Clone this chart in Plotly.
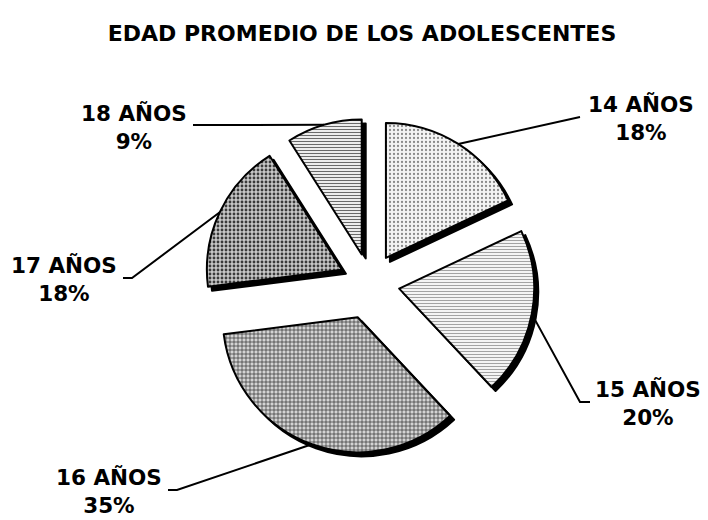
import math
import plotly.graph_objects as go

# ---- data ----
categories = ["14 AÑOS", "15 AÑOS", "16 AÑOS", "17 AÑOS", "18 AÑOS"]
values = [18, 20, 35, 18, 9]
title_text = "EDAD PROMEDIO DE LOS ADOLESCENTES"

# ---- styling / layout ----
OFF = 8                    # page body margin
W, H = 700, 512            # figure size so that page is 708x520
CX, CY = 370, 283          # pie centre, page px
R = 135                    # pie radius, px
pulls = [0.22, 0.22, 0.27, 0.23, 0.22]
shadow_off = 4

patterns = [
    dict(shape=".", fgcolor="#8a8a8a", bgcolor="#f4f4f4", size=4, solidity=0.25),
    dict(shape="-", fgcolor="#9a9a9a", bgcolor="#f4f4f4", size=3, solidity=0.3),
    dict(shape="+", fgcolor="#262626", bgcolor="#d4d4d4", size=4, solidity=0.3),
    dict(shape=".", fgcolor="#3a3a3a", bgcolor="#c8c8c8", size=4, solidity=0.4),
    dict(shape="-", fgcolor="#6a6a6a", bgcolor="#ececec", size=3, solidity=0.35),
]
# label centres and leader-line label ends (page px)
label_centres = [(641, 118), (648, 403), (109, 491), (64, 279), (134, 127)]
leader_ends = [[(580, 117)], [(580, 402), (590, 402)], [(177, 490), (168, 490)],
               [(132, 278), (123, 278)], [(193, 125)]]

FONT = "DejaVu Sans"

maxpull = max(pulls)
half = R * (1 + maxpull)


def px2paper(x, y):
    return (x - OFF) / W, 1 - (y - OFF) / H


def dom(cx, cy):
    x0, y1 = px2paper(cx - half, cy - half)
    x1, y0 = px2paper(cx + half, cy + half)
    return dict(x=[x0, x1], y=[y0, y1])


fig = go.Figure()

# shadow
fig.add_trace(go.Pie(
    labels=categories, values=values, sort=False, direction="clockwise", rotation=0,
    pull=pulls, domain=dom(CX + shadow_off, CY + shadow_off),
    marker=dict(colors=["black"] * len(values), line=dict(color="black", width=2)),
    textinfo="none", hoverinfo="skip", showlegend=False,
))

# main pie
fig.add_trace(go.Pie(
    labels=categories, values=values, sort=False, direction="clockwise", rotation=0,
    pull=pulls, domain=dom(CX, CY),
    marker=dict(colors=[p["bgcolor"] for p in patterns],
                line=dict(color="black", width=2),
                pattern=dict(shape=[p["shape"] for p in patterns],
                             fgcolor=[p["fgcolor"] for p in patterns],
                             bgcolor=[p["bgcolor"] for p in patterns],
                             size=[p["size"] for p in patterns],
                             solidity=[p["solidity"] for p in patterns],
                             fillmode="replace")),
    textinfo="none", showlegend=False,
))

total = sum(values)
cum = 0
shapes = []
annotations = []
for i, (cat, v) in enumerate(zip(categories, values)):
    theta = 2 * math.pi * (cum + v / 2) / total
    cum += v
    a = math.pi / 2 - theta
    k = (1 + pulls[i]) * R
    sx, sy = CX + k * math.cos(a), CY - k * math.sin(a)
    pts = [(sx, sy)] + leader_ends[i]
    path = ""
    for j, (x, y) in enumerate(pts):
        px, py = px2paper(x, y)
        path += ("M" if j == 0 else " L") + f" {px:.5f} {py:.5f}"
    shapes.append(dict(type="path", xref="paper", yref="paper", path=path,
                       line=dict(color="black", width=2)))
    lx, ly = px2paper(*label_centres[i])
    pct = round(100 * v / total)
    annotations.append(dict(
        x=lx, y=ly, xref="paper", yref="paper", showarrow=False,
        text=f"<b>{cat}<br>{pct}%</b>", align="center",
        font=dict(family=FONT, size=21.5, color="black"),
        xanchor="center", yanchor="middle"))

tx, ty = px2paper(362, 33)
fig.update_layout(
    width=W, height=H, autosize=False,
    margin=dict(l=0, r=0, t=0, b=0),
    paper_bgcolor="white", plot_bgcolor="white",
    title=dict(text=f"<b>{title_text}</b>", x=tx, y=ty, xanchor="center", yanchor="middle",
               xref="paper", yref="paper",
               font=dict(family=FONT, size=22, color="black")),
    shapes=shapes, annotations=annotations, showlegend=False,
)

fig.write_html("out.html")
